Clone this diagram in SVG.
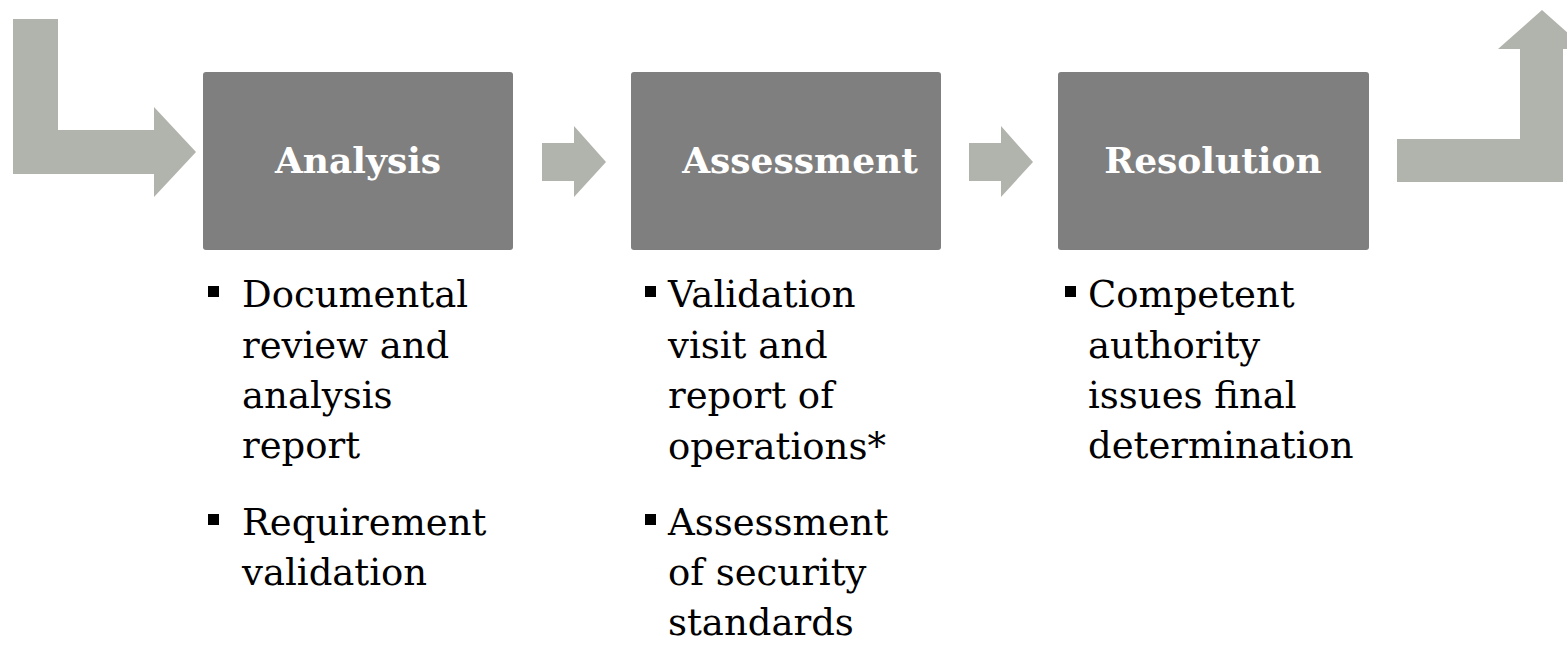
<svg xmlns="http://www.w3.org/2000/svg" width="1567" height="649" viewBox="0 0 1567 649">
<style>
.arrow{fill:#b1b3ad}
.box{fill:#7f7f7f}
.title{font-family:"DejaVu Serif",serif;font-weight:bold;font-size:36px;fill:#ffffff}
.body{font-family:"DejaVu Serif",serif;font-size:37px;fill:#000000}
.bullet{fill:#000000}
</style>
<rect width="1567" height="649" fill="#ffffff"/>
<g id="connectors">
<polygon class="arrow" points="13,19 58,19 58,130 154,130 154,107 196,152 154,197 154,174 13,174"/>
<polygon class="arrow" points="542,143 574,143 574,126 606,162 574,197 574,181 542,181"/>
<polygon class="arrow" points="969,143 1001,143 1001,126 1033,162 1001,197 1001,181 969,181"/>
<polygon class="arrow" points="1397,139 1520,139 1520,49 1498,49 1542,10 1586,49 1563,49 1563,182 1397,182"/>
</g>
<g id="analysis">
<rect class="box" x="203" y="72" width="310" height="178" rx="3"/>
<text class="title" x="358" y="173" text-anchor="middle">Analysis</text>
<rect class="bullet" x="208" y="286" width="11" height="11"/>
<text class="body"><tspan x="242" y="307">Documental</tspan><tspan x="242" y="358">review and</tspan><tspan x="242" y="408">analysis</tspan><tspan x="242" y="458">report</tspan></text>
<rect class="bullet" x="208" y="514" width="11" height="11"/>
<text class="body"><tspan x="242" y="535">Requirement</tspan><tspan x="242" y="585">validation</tspan></text>
</g>
<g id="assessment">
<rect class="box" x="631" y="72" width="310" height="178" rx="3"/>
<text class="title" x="800" y="173" text-anchor="middle">Assessment</text>
<rect class="bullet" x="645" y="286" width="11" height="11"/>
<text class="body"><tspan x="668" y="307">Validation</tspan><tspan x="668" y="358">visit and</tspan><tspan x="668" y="408">report of</tspan><tspan x="668" y="459">operations*</tspan></text>
<rect class="bullet" x="645" y="514" width="11" height="11"/>
<text class="body"><tspan x="668" y="535">Assessment</tspan><tspan x="668" y="585">of security</tspan><tspan x="668" y="635">standards</tspan></text>
</g>
<g id="resolution">
<rect class="box" x="1058" y="72" width="311" height="178" rx="3"/>
<text class="title" x="1213" y="173" text-anchor="middle">Resolution</text>
<rect class="bullet" x="1065" y="286" width="11" height="11"/>
<text class="body"><tspan x="1088" y="307">Competent</tspan><tspan x="1088" y="358">authority</tspan><tspan x="1088" y="408">issues final</tspan><tspan x="1088" y="458">determination</tspan></text>
</g>
</svg>
